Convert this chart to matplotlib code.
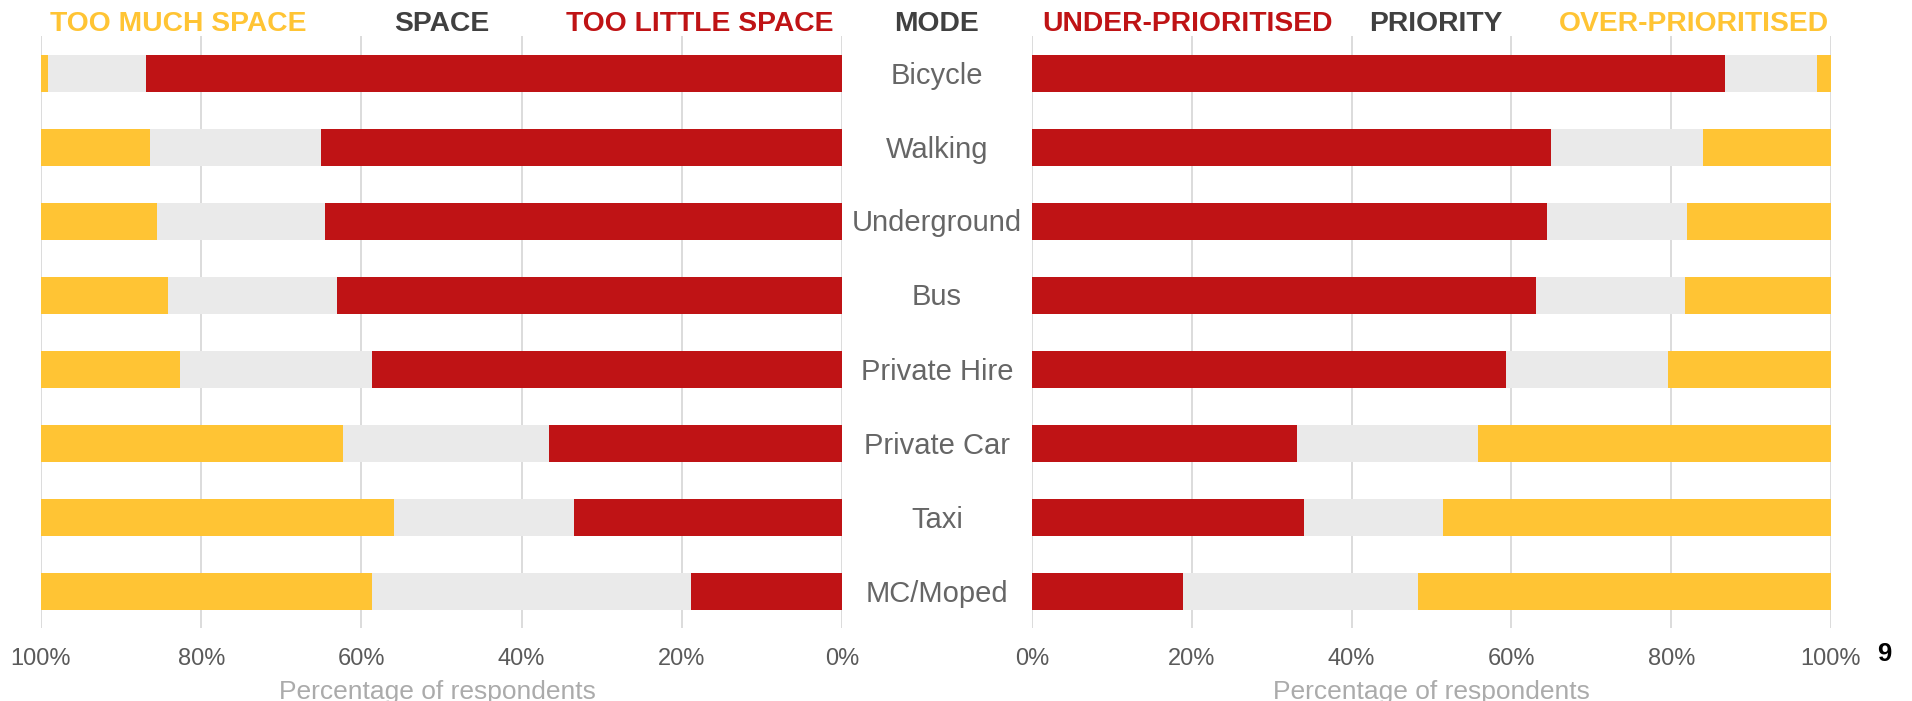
import matplotlib
matplotlib.use("Agg")
import matplotlib.pyplot as plt
import numpy as np

plt.rcParams['font.family'] = ['Liberation Sans', 'DejaVu Sans']

modes = ["Bicycle", "Walking", "Underground", "Bus", "Private Hire",
         "Private Car", "Taxi", "MC/Moped"]

# Perceived road space (% of respondents)
too_little_space = [86.9, 65.1, 64.6, 63.1, 58.7, 36.6, 33.5, 18.9]
space_neutral = [12.2, 21.3, 20.9, 21.0, 23.9, 25.7, 22.4, 39.8]
too_much_space = [0.9, 13.6, 14.5, 15.9, 17.4, 37.7, 44.1, 41.3]

# Perceived priority (% of respondents)
under_prioritised = [86.7, 64.9, 64.5, 63.1, 59.3, 33.2, 34.0, 18.9]
priority_neutral = [11.5, 19.1, 17.5, 18.6, 20.3, 22.6, 17.4, 29.4]
over_prioritised = [1.8, 16.0, 18.0, 18.3, 20.4, 44.2, 48.6, 51.7]

tick_values = [0, 20, 40, 60, 80, 100]
tick_labels = ["0%", "20%", "40%", "60%", "80%", "100%"]

RED = "#BF1315"
GREY = "#EAEAEA"
YELLOW = "#FFC434"
DARK = "#404040"
LABEL = "#666666"
TICK = "#5a5a5a"
AXLABEL = "#ababab"
GRID = "#d9d9d9"

W, H = 1912, 701
fig = plt.figure(figsize=(W / 100, H / 100), dpi=100)

top = 1 - 36 / H
bottom = 1 - 628 / H
ax_l = fig.add_axes([41 / W, bottom, (842 - 41) / W, top - bottom])
ax_r = fig.add_axes([1032 / W, bottom, (1831 - 1032) / W, top - bottom])

y = np.arange(len(modes))


def stacked(ax, first, middle, last):
    first = np.array(first)
    middle = np.array(middle)
    last = np.array(last)
    ax.barh(y, first, left=0, height=0.5, color=RED, zorder=2)
    ax.barh(y, middle, left=first, height=0.5, color=GREY, zorder=2)
    ax.barh(y, last, left=first + middle, height=0.5, color=YELLOW, zorder=2)


stacked(ax_l, too_little_space, space_neutral, too_much_space)
stacked(ax_r, under_prioritised, priority_neutral, over_prioritised)

for ax in (ax_l, ax_r):
    ax.set_ylim(len(modes) - 0.5, -0.5)
    ax.set_yticks([])
    ax.set_xticks(tick_values)
    ax.set_xticklabels(tick_labels)
    ax.tick_params(axis='x', length=0, pad=14.5, labelsize=17, labelcolor=TICK)
    for s in ax.spines.values():
        s.set_visible(False)
    ax.grid(axis='x', color=GRID, linewidth=1.3, zorder=0)
    ax.set_axisbelow(True)
    ax.set_facecolor('none')

ax_l.set_xlim(100, 0)
ax_r.set_xlim(0, 100)

# Mode names between the two panels
for i, m in enumerate(modes):
    yc = ax_l.transData.transform((0, i))[1] - 2.5
    fig.text(937 / W, yc / fig.dpi / fig.get_figheight(), m, ha='center',
             va='center', fontsize=21, color=LABEL)

# Column headers
hy = 1 - 24 / H
hkw = dict(va='center', fontsize=20.3, fontweight='bold')
fig.text(50 / W, hy, "TOO MUCH SPACE", ha='left', color=YELLOW, **hkw)
fig.text(441.5 / W, hy, "SPACE", ha='center', color=DARK, **hkw)
fig.text(834 / W, hy, "TOO LITTLE SPACE", ha='right', color=RED, **hkw)
fig.text(937 / W, hy, "MODE", ha='center', color=DARK, **hkw)
fig.text(1042 / W, hy, "UNDER-PRIORITISED", ha='left', color=RED, **hkw)
fig.text(1436 / W, hy, "PRIORITY", ha='center', color=DARK, **hkw)
fig.text(1829 / W, hy, "OVER-PRIORITISED", ha='right', color=YELLOW, **hkw)

# Axis titles
ly = 1 - 699 / H
fig.text(437 / W, ly, "Percentage of respondents", ha='center',
         va='baseline', fontsize=19, color=AXLABEL)
fig.text(1431.5 / W, ly, "Percentage of respondents", ha='center',
         va='baseline', fontsize=19, color=AXLABEL)

# Page number
fig.text(1884.5 / W, 1 - 654 / H, "9", ha='center', va='center',
         fontsize=18.5, fontweight='bold', color='black')

fig.savefig("out.png", dpi=100)
